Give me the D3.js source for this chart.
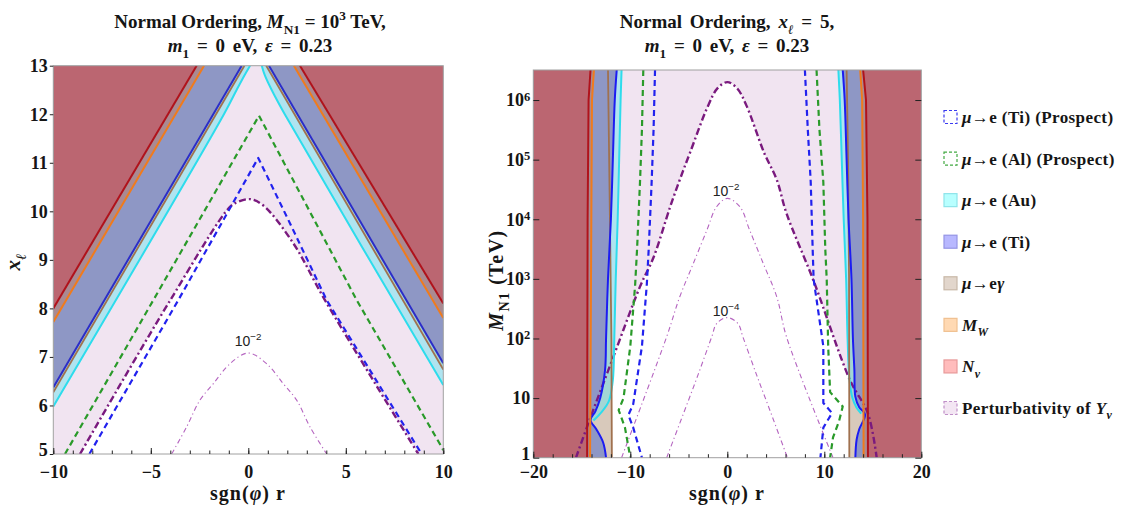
<!DOCTYPE html>
<html><head><meta charset="utf-8">
<script src="https://cdn.jsdelivr.net/npm/d3@7"></script>
<style>
body{margin:0;background:#fff;}
svg{display:block;}
text{font-family:"Liberation Serif","Times New Roman",serif;font-weight:bold;fill:#151515;}
text.lbl{font-family:"Liberation Sans",Arial,sans-serif;font-weight:normal;fill:#222;}
</style></head><body>
<svg id="c" width="1123" height="506"></svg>
<script>
// ================= LEFT PANEL DATA  (sgn(phi) r , x_l) =================
const leftXTicks = [-10,-5,0,5,10];
const leftYTicks = [5,6,7,8,9,10,11,12,13];
const L_red_l    = [[-10,8.0],[-2.65,13]];
const L_red_r    = [[2.65,13],[10,8.1]];
const L_orange_l = [[-10,7.72],[-2.27,13]];
const L_orange_r = [[2.34,13],[10,7.8]];
const L_blue_l   = [[-10,6.37],[-0.34,13]];
const L_blue_r   = [[1.06,13],[10,6.87]];
const L_brown_l  = [[-10,6.27],[-0.2,13]];
const L_brown_r  = [[0.92,13],[10,6.74]];
const L_cyan_l   = [[-10,5.98],[-1.25,12],[-0.6,12.5],[-0.2,12.8],[0.09,13]];
const L_cyan_r   = [[0.69,13],[0.85,12.8],[1.2,12.5],[1.87,12],[10,6.42]];
const L_green    = [[-9.4,5],[-4.87,8.17],[0.55,11.97],[5.56,8.17],[9.92,5.14],[10,5.08]];
const L_blueDash = [[-8.15,5],[-3.59,8.17],[0.51,11.1],[2.14,9.75],[4.02,8.17],[8.89,5]];
const L_pert     = [[-8.63,5],[-4.0,8.17],[-0.94,10.09],[-0.5,10.2],[0.1,10.25],[0.77,10.12],[2.31,9.34],[3.93,8.17],[8.72,5]];
const L_c2       = [[-3.93,5],[-3.16,5.56],[-2.48,6.11],[-1.79,6.45],[-0.94,6.86],[0,7.08],[0.94,6.86],[1.79,6.45],[2.48,6.11],[3.16,5.56],[4.02,5]];

// ================= RIGHT PANEL DATA  (sgn(phi) r , M_N1 [TeV]) =================
const rightXTicks = [-20,-10,0,10,20];
const rightYTicks = [1,10,100,1e3,1e4,1e5,1e6];
const R_red_l    = [[-14.1,3.2e6],[-14.3,1e6],[-14.4,1e4],[-14.45,1]];
const R_orange_l = [[-13.75,3.2e6],[-13.95,1e6],[-14.05,1e3],[-14.15,1]];
const R_blue_l   = [[-11.4,3.2e6],[-11.6,1e6],[-11.8,1e5],[-12.0,1e4],[-12.3,1e3],[-12.5,100],[-12.6,30],[-13.1,10],[-13.6,6],[-14.1,4.3],[-13.5,3],[-12.8,1.8],[-12.5,1]];
const R_brown_l  = [[-12.3,3.2e6],[-12.1,1e4],[-11.95,100],[-11.9,1]];
const R_cyan_l   = [[-10.9,3.2e6],[-11.0,1e6],[-11.15,1e5],[-11.3,1e4],[-11.5,1e3],[-11.65,100],[-11.8,20],[-12.2,9],[-12.9,6],[-13.8,4.2]];
const R_red_r    = [[14.0,3.2e6],[14.3,1e6],[14.45,1e4],[14.5,1]];
const R_orange_r = [[13.7,3.2e6],[13.9,1e6],[14.0,1e4],[14.05,1]];
const R_blue_r   = [[11.9,3.2e6],[12.1,1e6],[12.3,1e5],[12.5,1e4],[12.8,1e3],[12.95,100],[13.1,30],[13.2,10.6],[13.6,7],[14.2,5.3],[13.6,3],[13.33,2],[13.2,1]];
const R_brown_r  = [[12.3,3.2e6],[12.45,1e5],[12.55,1e3],[12.58,1]];
const R_cyan_r   = [[11.45,3.2e6],[11.6,1e6],[11.8,1e5],[12.0,1e4],[12.25,1e3],[12.4,100],[12.6,20],[12.9,10],[13.3,7],[13.8,5.5]];
const R_blueDash_l  = [[-7.45,3.2e6],[-7.6,3.2e5],[-7.8,4.2e4],[-8.1,3200],[-8.3,800],[-8.8,74],[-9.7,7.9],[-10.2,5.2],[-9.7,3.2],[-8.8,1]];
const R_greenDash_l = [[-8.66,3.2e6],[-8.8,3.2e5],[-9.0,4.2e4],[-9.3,3200],[-9.5,800],[-10.0,74],[-10.7,10],[-11.2,6.3],[-10.55,3.2],[-10.0,1]];
const R_blueDash_r  = [[8.0,3.2e6],[8.3,3.2e5],[8.6,4.2e4],[8.8,3200],[8.9,980],[9.9,74],[9.9,8.3],[10.8,5.6],[9.9,3.2],[9.6,1]];
const R_greenDash_r = [[9.2,3.2e6],[9.5,3.2e5],[9.9,4.2e4],[10.1,3200],[10.25,980],[10.4,74],[10.6,12.6],[11.9,7.2],[11.5,4],[10.9,2.2],[10.6,1]];
const R_pert = [[-15.6,1],[-14.2,4.3],[-11.75,49],[-9.0,740],[-7.6,2300],[-5.9,1.6e4],[-4.9,4.6e4],[-3.85,1.3e5],[-2,7.9e5],[-1,1.58e6],[0,2.0e6],[1,1.58e6],[2,7.9e5],[3.8,1.3e5],[5.1,4.6e4],[6.1,1.26e4],[8.87,950],[12.65,20],[14.5,5.5],[15.4,1]];
const R_c2 = [[-10.9,1],[-6.25,107],[-4.9,500],[-3.5,1820],[-2.1,6600],[-1.1,1.62e4],[0,2.24e4],[1.3,1.62e4],[2.3,6600],[3.7,1820],[5.1,500],[6.1,107],[10.9,1]];
const R_c4 = [[-6.25,1],[-4.5,5.6],[-3,25],[-1.6,107],[-1.1,178],[0,224],[1.1,178],[1.6,107],[3,25],[4.5,5.6],[6.2,1]];

// ================= STYLE =================
const C = {
  lav:"#f1e4f1", tan:"#d8c9bb", cyanFill:"rgba(110,228,240,0.5)", blueFill:"#8e97c5",
  orangeFill:"#aa8a92", redFill:"#bb6671",
  redLine:"#b0121b", orangeLine:"#f07b1c", blueLineL:"#2c2cc8", blueLineR:"#1c1cf2",
  brownLine:"#a0714f", cyanLine:"#2edcec", green:"#2a9a2a", blueDash:"#2222ee",
  purple:"#7a1a7e", purpleThin:"#b565c0", frame:"#a0a0a0"
};

const svg = d3.select("#c");

function rich(g, x, y, parts, size, anchor, transform){
  const t = g.append("text").attr("font-size", size).attr("text-anchor", anchor||"middle");
  if (transform) t.attr("transform", transform); else t.attr("x",x).attr("y",y);
  let shift = 0;
  parts.forEach(p=>{
    const s = t.append("tspan").text(p.t);
    const target = p.sub ? 0.3*size : (p.sup ? -0.42*size : 0);
    if (target-shift !== 0) s.attr("dy", target-shift);
    shift = target;
    if (p.sub || p.sup) s.attr("font-size", size*0.7);
    if (p.it) s.attr("font-style","italic");
  });
  return t;
}
function region(line, sx, sy, pts, extra){
  return line(pts) + extra.map(p=>`L${sx(p[0])},${sy(p[1])}`).join("") + "Z";
}

function drawPanel(o){
  const {sx, sy, id} = o;
  const [x0,x1] = sx.range(), [y0,y1] = sy.range();
  const g = svg.append("g");
  g.append("clipPath").attr("id",id).append("rect")
    .attr("x",x0).attr("y",y1).attr("width",x1-x0).attr("height",y0-y1);
  const pg = g.append("g").attr("clip-path",`url(#${id})`);
  const lin = d3.line().x(d=>sx(d[0])).y(d=>sy(d[1]));
  const smo = d3.line().x(d=>sx(d[0])).y(d=>sy(d[1])).curve(d3.curveCatmullRom.alpha(0.5));
  pg.append("rect").attr("x",x0).attr("y",y1).attr("width",x1-x0).attr("height",y0-y1).attr("fill",C.lav);
  pg.append("path").attr("d", region(smo,sx,sy,o.pert,[])).attr("fill","#fff");
  const sides = (arrL, arrR, fill, line) => {
    pg.append("path").attr("d", region(line,sx,sy,arrL, o.leftExtra(arrL))).attr("fill",fill);
    pg.append("path").attr("d", region(line,sx,sy,arrR, o.rightExtra(arrR))).attr("fill",fill);
  };
  sides(o.brown[0], o.brown[1], C.tan, lin);
  sides(o.cyan[0], o.cyan[1], C.cyanFill, smo);
  sides(o.blue[0], o.blue[1], C.blueFill, o.blueCurve==="lin"?lin:smo);
  sides(o.orange[0], o.orange[1], C.orangeFill, lin);
  sides(o.red[0], o.red[1], C.redFill, lin);
  const stroke = (d, col, w, dash) => pg.append("path").attr("d",d).attr("fill","none")
     .attr("stroke",col).attr("stroke-width",w).attr("stroke-dasharray",dash||null)
     .attr("stroke-linejoin","round");
  o.thin.forEach(a=>stroke(smo(a), C.purpleThin, 1.1, "5,3,1.2,3"));
  stroke(smo(o.pert), C.purple, 2.4, "7,3,2,3");
  o.green.forEach(a=>stroke(lin(a), C.green, 2.2, "6,4"));
  o.bdash.forEach(a=>stroke(lin(a), C.blueDash, 2.2, "6,4"));
  o.cyan.forEach(a=>stroke(smo(a), C.cyanLine, 2));
  o.brown.forEach(a=>stroke(lin(a), C.brownLine, 1.8));
  o.blue.forEach(a=>stroke((o.blueCurve==="lin"?lin:smo)(a), o.blueCol, 2));
  o.orange.forEach(a=>stroke(lin(a), C.orangeLine, 2));
  o.red.forEach(a=>stroke(lin(a), C.redLine, 2));
  g.append("rect").attr("x",x0).attr("y",y1).attr("width",x1-x0).attr("height",y0-y1)
    .attr("fill","none").attr("stroke",C.frame).attr("stroke-width",1);
  return g;
}

// ---------- LEFT ----------
const lx = d3.scaleLinear([-10,10],[53.3,443.3]);
const ly = d3.scaleLinear([5,13],[454,65.7]);
const gL = drawPanel({
  id:"clipL", sx:lx, sy:ly, pert:L_pert,
  brown:[L_brown_l,L_brown_r], cyan:[L_cyan_l,L_cyan_r], blue:[L_blue_l,L_blue_r],
  orange:[L_orange_l,L_orange_r], red:[L_red_l,L_red_r],
  leftExtra:a=>[[-10,13]], rightExtra:a=>[[10,13]],
  thin:[L_c2], green:[L_green], bdash:[L_blueDash], blueCol:C.blueLineL, blueCurve:"lin"
});
rich(gL, 248, 346, [{t:"10"},{t:"−2",sup:1}], 14, "middle").attr("class","lbl");

// ---------- RIGHT ----------
const rx = d3.scaleLinear([-20,20],[533.3,921.3]);
const ry = d3.scaleLog([1,3.19e6],[457.7,70]);
const TOP = 3.2e6;
const gR = drawPanel({
  id:"clipR", sx:rx, sy:ry, pert:R_pert,
  brown:[R_brown_l,R_brown_r], cyan:[R_cyan_l,R_cyan_r], blue:[R_blue_l,R_blue_r],
  orange:[R_orange_l,R_orange_r], red:[R_red_l,R_red_r],
  leftExtra:a=>[[-20,a[a.length-1][1]],[-20,TOP]], rightExtra:a=>[[20,a[a.length-1][1]],[20,TOP]],
  thin:[R_c2,R_c4], green:[R_greenDash_l,R_greenDash_r], bdash:[R_blueDash_l,R_blueDash_r],
  blueCol:C.blueLineR, blueCurve:"smo"
});
rich(gR, 726, 196, [{t:"10"},{t:"−2",sup:1}], 14, "middle").attr("class","lbl");
rich(gR, 726, 316, [{t:"10"},{t:"−4",sup:1}], 14, "middle").attr("class","lbl");

// ---------- AXES ----------
function styleAxis(g){
  g.attr("font-family",null).attr("font-size",null);
  g.select(".domain").remove();
  g.selectAll(".tick line").attr("stroke","#222");
  g.selectAll(".tick text").attr("font-size",18).attr("fill","#151515");
}
svg.append("g").attr("transform","translate(0,454)")
  .call(d3.axisBottom(lx).tickValues(d3.range(-10,11,1)).tickSizeInner(-3.5).tickSizeOuter(0).tickFormat(""))
  .call(styleAxis);
svg.append("g").attr("transform","translate(0,454)")
  .call(d3.axisBottom(lx).tickValues(leftXTicks).tickSizeInner(-6).tickSizeOuter(0).tickPadding(11))
  .call(styleAxis);
const lyAx = svg.append("g").attr("transform","translate(53.3,0)")
  .call(d3.axisLeft(ly).tickValues(leftYTicks).tickSizeInner(3.5).tickSizeOuter(0).tickPadding(2).tickFormat(d3.format("d")))
  .call(styleAxis);
lyAx.selectAll(".tick text").filter(d=>d===5).attr("dy","0.1em");
svg.append("g").attr("transform","translate(0,457.7)")
  .call(d3.axisBottom(rx).tickValues(d3.range(-20,21,2)).tickSizeInner(-3.5).tickSizeOuter(0).tickFormat(""))
  .call(styleAxis);
svg.append("g").attr("transform","translate(0,457.7)")
  .call(d3.axisBottom(rx).tickValues(rightXTicks).tickSizeInner(-6).tickSizeOuter(0).tickPadding(8))
  .call(styleAxis);
const ryAx = svg.append("g").attr("transform","translate(533.3,0)")
  .call(d3.axisLeft(ry).tickValues(rightYTicks).tickSizeInner(-6).tickSizeOuter(0).tickPadding(3))
  .call(styleAxis);
ryAx.selectAll(".tick text").each(function(d){
  const t = d3.select(this); t.text("");
  const e = Math.round(Math.log10(d));
  if (e === 0) { t.text("1").attr("dy","0.1em"); return; }
  if (e === 1) { t.text("10"); return; }
  t.append("tspan").text("10");
  t.append("tspan").attr("dy","-0.45em").attr("font-size",12.5).text(String(e));
});
svg.append("g").attr("transform","translate(921.3,0)")
  .call(d3.axisRight(ry).tickValues(rightYTicks).tickSizeInner(-6).tickSizeOuter(0).tickFormat(""))
  .call(styleAxis);

// ---------- TITLES ----------
const tA = rich(svg, 250, 28, [{t:"Normal Ordering, "},{t:"M",it:1},{t:"N1",sub:1},{t:" = 10"},{t:"3",sup:1},{t:" TeV,"}], 19);
const tB = rich(svg, 250, 52, [{t:"m",it:1},{t:"1",sub:1},{t:" = 0 eV, "},{t:"ε",it:1},{t:" = 0.23"}], 19);
const tC = rich(svg, 727, 28, [{t:"Normal Ordering, "},{t:"x",it:1},{t:"ℓ",sub:1,it:1},{t:" = 5,"}], 19);
const tD = rich(svg, 727, 52, [{t:"m",it:1},{t:"1",sub:1},{t:" = 0 eV, "},{t:"ε",it:1},{t:" = 0.23"}], 19);
[tB,tC,tD].forEach(t=>t.attr("word-spacing","3px"));
rich(svg, 248, 500, [{t:"sgn("},{t:"φ",it:1},{t:") r"}], 20).attr("letter-spacing","1px");
rich(svg, 727, 500, [{t:"sgn("},{t:"φ",it:1},{t:") r"}], 20).attr("letter-spacing","1px");
rich(svg, 0, 0, [{t:"x",it:1},{t:"ℓ",sub:1,it:1}], 21, "middle", "translate(20,262) rotate(-90)");
rich(svg, 0, 0, [{t:"M",it:1},{t:"N1",sub:1},{t:" (TeV)"}], 20, "middle", "translate(503,280) rotate(-90)").attr("letter-spacing","1.5px");

// ---------- LEGEND ----------
const legendItems = [
  {parts:[{t:"μ",it:1},{t:"→e (Ti) (Prospect)"}], fill:"none", stroke:"#3a3af0", dash:"3,2"},
  {parts:[{t:"μ",it:1},{t:"→e (Al) (Prospect)"}], fill:"none", stroke:"#44aa44", dash:"3,2"},
  {parts:[{t:"μ",it:1},{t:"→e (Au)"}], fill:"#b8ffff", stroke:"#8ee4ea"},
  {parts:[{t:"μ",it:1},{t:"→e (Ti)"}], fill:"#b8b8ff", stroke:"#9494e4"},
  {parts:[{t:"μ",it:1},{t:"→e"},{t:"γ",it:1}], fill:"#e2d6cc", stroke:"#c8b8a8"},
  {parts:[{t:"M",it:1},{t:"W",sub:1,it:1}], fill:"#ffd9b3", stroke:"#f0c090"},
  {parts:[{t:"N",it:1},{t:"ν",sub:1,it:1}], fill:"#ffbcbc", stroke:"#e89a9a"},
  {parts:[{t:"Perturbativity of "},{t:"Y",it:1},{t:"ν",sub:1,it:1}], fill:"#f3e6f3", stroke:"#c090c8", dash:"3,2"}
];
const lgY = d3.scaleLinear([0,7],[117,408]);
const lg = svg.append("g");
legendItems.forEach((it,i)=>{
  const y = lgY(i);
  lg.append("rect").attr("x",944).attr("y",y-6.5).attr("width",13).attr("height",13)
    .attr("fill",it.fill).attr("stroke",it.stroke).attr("stroke-width",1.2)
    .attr("stroke-dasharray",it.dash||null);
  rich(lg, 962, y+6, it.parts, 17, "start").attr("letter-spacing","0.4px");
});
</script>
</body></html>
